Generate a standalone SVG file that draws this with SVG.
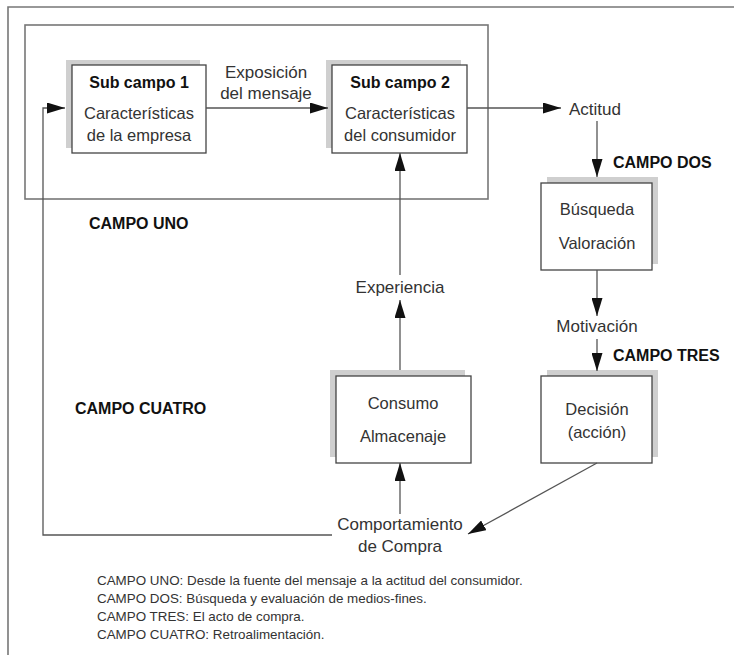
<svg xmlns="http://www.w3.org/2000/svg" width="734" height="655" viewBox="0 0 734 655">
<defs>
<style>
.frame{fill:none;stroke:#777;stroke-width:1.6}
.box{fill:#fff;stroke:#444;stroke-width:1.3}
.sh{fill:#cfcfcf;stroke:none}
.t{font-family:"Liberation Sans",Arial,sans-serif;font-size:16.5px;fill:#333;text-anchor:middle}
.lb{font-family:"Liberation Sans",Arial,sans-serif;font-size:17px;fill:#333}
.b{font-family:"Liberation Sans",Arial,sans-serif;font-size:16px;font-weight:bold;fill:#111}
.fn{font-family:"Liberation Sans",Arial,sans-serif;font-size:13.4px;fill:#333}
.c{fill:none;stroke:#555;stroke-width:1.3}
</style>
<marker id="ah" markerUnits="userSpaceOnUse" markerWidth="18" markerHeight="11" viewBox="0 0 18 11" refX="18" refY="5.5" orient="auto">
<path d="M0,0 L18,5.5 L0,11 z" fill="#111"/>
</marker>
</defs>
<rect width="734" height="655" fill="#fff"/>
<path class="frame" d="M8,655 V7 H734"/>
<g id="campo-uno">
<rect class="frame" x="25" y="25" width="463" height="174"/>
<text class="b" x="89" y="229">CAMPO UNO</text>
</g>
<g id="sub1">
<rect class="sh" x="66" y="60" width="134" height="88"/>
<rect class="box" x="72" y="65" width="134" height="88"/>
<text class="t" x="139" y="88" style="font-weight:bold;fill:#111;font-size:16px">Sub campo 1</text>
<text class="t" x="139" y="119">Características</text>
<text class="t" x="139" y="141">de la empresa</text>
</g>
<g id="sub2">
<rect class="sh" x="326" y="60" width="135" height="88"/>
<rect class="box" x="332" y="65" width="135" height="88"/>
<text class="t" x="400" y="88" style="font-weight:bold;fill:#111;font-size:16px">Sub campo 2</text>
<text class="t" x="400" y="119">Características</text>
<text class="t" x="400" y="141">del consumidor</text>
</g>
<g id="busqueda">
<rect class="sh" x="547" y="177" width="111" height="87"/>
<rect class="box" x="541" y="183" width="111" height="87"/>
<text class="t" x="597" y="215">Búsqueda</text>
<text class="t" x="597" y="249">Valoración</text>
</g>
<g id="consumo">
<rect class="sh" x="330" y="370" width="135" height="87"/>
<rect class="box" x="336" y="376" width="135" height="87"/>
<text class="t" x="403" y="409">Consumo</text>
<text class="t" x="403" y="442">Almacenaje</text>
</g>
<g id="decision">
<rect class="sh" x="547" y="370" width="111" height="87"/>
<rect class="box" x="541" y="376" width="111" height="87"/>
<text class="t" x="597" y="415">Decisión</text>
<text class="t" x="597" y="438">(acción)</text>
</g>
<g id="labels">
<text class="lb" x="266" y="78" text-anchor="middle">Exposición</text>
<text class="lb" x="266" y="99" text-anchor="middle">del mensaje</text>
<text class="lb" x="569" y="115">Actitud</text>
<text class="b" x="613" y="168">CAMPO DOS</text>
<text class="lb" x="597" y="332" text-anchor="middle">Motivación</text>
<text class="b" x="613" y="361">CAMPO TRES</text>
<text class="lb" x="400" y="293" text-anchor="middle">Experiencia</text>
<text class="b" x="75" y="414">CAMPO CUATRO</text>
<text class="lb" x="400" y="530" text-anchor="middle">Comportamiento</text>
<text class="lb" x="400" y="552" text-anchor="middle">de Compra</text>
</g>
<g id="connectors">
<line class="c" x1="206" y1="108" x2="328" y2="108" marker-end="url(#ah)"/>
<line class="c" x1="467" y1="108" x2="561" y2="108" marker-end="url(#ah)"/>
<line class="c" x1="597" y1="121" x2="597" y2="177" marker-end="url(#ah)"/>
<line class="c" x1="597" y1="270" x2="597" y2="316" marker-end="url(#ah)"/>
<line class="c" x1="597" y1="339" x2="597" y2="371" marker-end="url(#ah)"/>
<line class="c" x1="597" y1="463" x2="468" y2="534" marker-end="url(#ah)"/>
<line class="c" x1="400" y1="514" x2="400" y2="463" marker-end="url(#ah)"/>
<line class="c" x1="400" y1="370" x2="400" y2="300" marker-end="url(#ah)"/>
<line class="c" x1="400" y1="275" x2="400" y2="153" marker-end="url(#ah)"/>
<polyline class="c" points="332,535 43,535 43,108 65,108" marker-end="url(#ah)"/>
</g>
<g id="notes">
<text class="fn" x="97" y="585">CAMPO UNO: Desde la fuente del mensaje a la actitud del consumidor.</text>
<text class="fn" x="97" y="603">CAMPO DOS: Búsqueda y evaluación de medios-fines.</text>
<text class="fn" x="97" y="621">CAMPO TRES: El acto de compra.</text>
<text class="fn" x="97" y="639">CAMPO CUATRO: Retroalimentación.</text>
</g>
</svg>
